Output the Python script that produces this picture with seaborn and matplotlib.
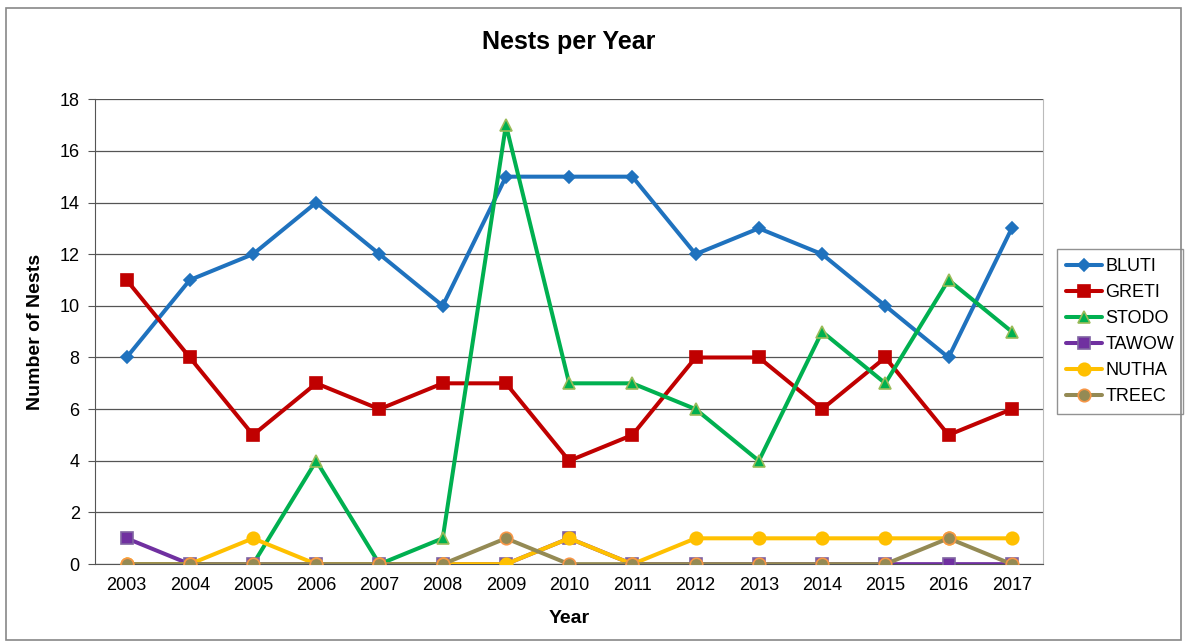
import matplotlib
matplotlib.use("Agg")
import matplotlib.pyplot as plt
from matplotlib.patches import Rectangle
import pandas as pd
import seaborn as sns

years = [2003, 2004, 2005, 2006, 2007, 2008, 2009, 2010, 2011, 2012, 2013, 2014, 2015, 2016, 2017]
bluti = [8, 11, 12, 14, 12, 10, 15, 15, 15, 12, 13, 12, 10, 8, 13]
greti = [11, 8, 5, 7, 6, 7, 7, 4, 5, 8, 8, 6, 8, 5, 6]
stodo = [0, 0, 0, 4, 0, 1, 17, 7, 7, 6, 4, 9, 7, 11, 9]
tawow = [1, 0, 0, 0, 0, 0, 0, 1, 0, 0, 0, 0, 0, 0, 0]
nutha = [0, 0, 1, 0, 0, 0, 0, 1, 0, 1, 1, 1, 1, 1, 1]
treec = [0, 0, 0, 0, 0, 0, 1, 0, 0, 0, 0, 0, 0, 1, 0]

series = {"BLUTI": bluti, "GRETI": greti, "STODO": stodo,
          "TAWOW": tawow, "NUTHA": nutha, "TREEC": treec}
styles = {
    "BLUTI": dict(color="#1F72BE", marker="D", ms=6, mfc="#1F72BE", mec="#1F72BE"),
    "GRETI": dict(color="#C00000", marker="s", ms=8, mfc="#C00000", mec="#C00000"),
    "STODO": dict(color="#00B050", marker="^", ms=8, mfc="#00B050", mec="#9BBB59"),
    "TAWOW": dict(color="#7030A0", marker="s", ms=8, mfc="#7030A0", mec="#8064A2"),
    "NUTHA": dict(color="#FFC000", marker="o", ms=9, mfc="#FFC000", mec="#FFC000"),
    "TREEC": dict(color="#948A54", marker="o", ms=9, mfc="#948A54", mec="#F79646"),
}

df = pd.DataFrame({"Year": years, **series})

sns.set_style("white", {"text.color": "black", "xtick.color": "black", "ytick.color": "black",
                        "axes.labelcolor": "black"})
plt.rcParams["font.family"] = ["Liberation Sans", "DejaVu Sans"]

fig = plt.figure(figsize=(11.87, 6.44), dpi=100)
ax = fig.add_axes([0.080, 0.124, 0.799, 0.722])

for name in series:
    st = styles[name]
    sns.lineplot(data=df, x="Year", y=name, ax=ax, color=st["color"], lw=2.9,
                 marker=st["marker"], markersize=st["ms"], markerfacecolor=st["mfc"],
                 markeredgecolor=st["mec"], markeredgewidth=1.2, label=name, zorder=3)

ax.set_xlim(years[0] - 0.5, years[-1] + 0.5)
ax.set_ylim(0, 18)
ax.set_yticks(range(0, 19, 2))
ax.set_xticks(years)
ax.set_xticks([y - 0.5 for y in years] + [years[-1] + 0.5], minor=True)
ax.tick_params(axis="x", which="major", length=0, labelsize=13, pad=9, labelcolor="black")
ax.tick_params(axis="x", which="minor", length=5, color="#555555", direction="out")
ax.tick_params(axis="y", length=5, color="#555555", direction="out", labelsize=13, left=True,
               pad=6, labelcolor="black")
ax.grid(axis="y", color="#555555", lw=0.9)
ax.set_axisbelow(True)
for side in ["left", "bottom"]:
    ax.spines[side].set_color("#555555")
ax.spines["top"].set_visible(False)
ax.spines["right"].set_color("#BBBBBB")

ax.set_title("Nests per Year", fontsize=18, fontweight="bold", pad=36, color="black")
ax.set_xlabel("Year", fontsize=14, fontweight="bold", labelpad=12, color="black")
ax.set_ylabel("Number of Nests", fontsize=14, fontweight="bold", labelpad=11, color="black")

leg = ax.legend(loc="center left", bbox_to_anchor=(1.014, 0.5), fontsize=13,
                frameon=True, fancybox=False, edgecolor="#777777",
                handlelength=2.0, labelspacing=0.5, borderpad=0.5, handletextpad=0.2,
                borderaxespad=0)
leg.get_frame().set_linewidth(1)
for t in leg.get_texts():
    t.set_color("black")

fig.patches.append(Rectangle((0.005, 0.006), 0.99, 0.982, transform=fig.transFigure,
                             fill=False, edgecolor="#888888", lw=1.2))

fig.savefig("out.png", dpi=100)
